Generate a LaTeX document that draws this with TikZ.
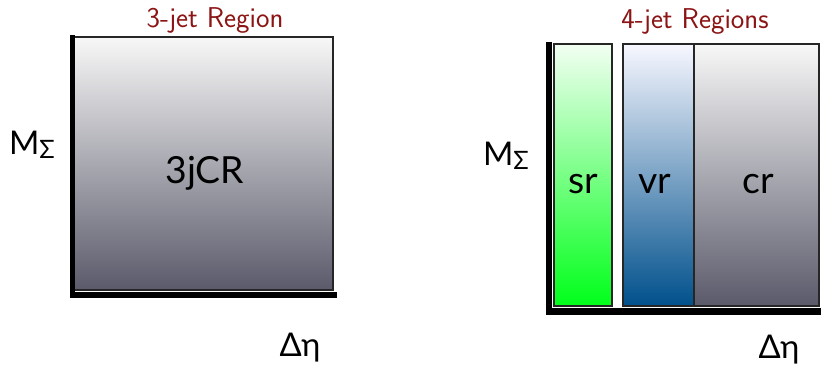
\documentclass[tikz,border=0pt]{standalone}
\usepackage{fontspec}
\usepackage{tikz}
\usetikzlibrary{positioning}
\newfontfamily\labelfont{Lato}
\definecolor{titlered}{RGB}{140,20,20}
\definecolor{cgrey}{RGB}{90,90,107}
\definecolor{cgreen}{RGB}{0,255,26}
\definecolor{cblue}{RGB}{0,80,140}
\newcommand{\msigma}{M\raisebox{-3pt}{\fontsize{19}{19}\selectfont Σ}}

\begin{document}
\begin{tikzpicture}[x=0.75pt,y=-0.75pt,
  region/.style={draw=black!85, line width=1.1pt},
  greyreg/.style={region, top color=white!97!black, bottom color=cgrey},
  greenreg/.style={region, top color=green!5!white, bottom color=cgreen},
  bluereg/.style={region, top color=blue!3!white, bottom color=cblue},
  axis/.style={line width=4.2pt, line cap=rect},
  title/.style={font=\sffamily\fontsize{21.5}{23}\selectfont, text=titlered, anchor=base},
  axislbl/.style={font=\labelfont\fontsize{24.5}{26}\selectfont, anchor=base},
  reglbl/.style={font=\labelfont\fontsize{28}{30}\selectfont, anchor=base}]
  \useasboundingbox (0,0) rectangle (821,368);

  % 3-jet panel
  \draw[greyreg] (74,37) rectangle (333,290);
  \coordinate (o3) at (72.5,295);
  \coordinate (y3) at (72.5,38);
  \coordinate (x3) at (334,295);
  \draw[axis] (y3) -- (o3) -- (x3);
  \node[title] (t3) at (215,27) {3-jet Region};
  \node[reglbl] (cr3) at (205,183) {3jCR};
  \node[axislbl] (m3) at (32,154) {\msigma};
  \node[axislbl] (e3) at (300,356) {Δη};

  % 4-jet panel
  \draw[greenreg] (554,44) rectangle (612,306);
  \draw[bluereg] (623,44) rectangle (694,306);
  \draw[greyreg] (694,44) rectangle (819,306);
  \coordinate (o4) at (549,311.5);
  \coordinate (y4) at (549,45);
  \coordinate (x4) at (821,311.5);
  \draw[axis, line width=5pt] (y4) -- (o4) -- (x4);
  \node[title] (t4) at (695,28) {4-jet Regions};
  \node[reglbl] (sr) at (583,193) {sr};
  \node[reglbl] (vr) at (655,193) {vr};
  \node[reglbl] (cr) at (758,193) {cr};
  \node[axislbl] (m4) at (506,165) {\msigma};
  \node[axislbl] (e4) at (779,358) {Δη};
\end{tikzpicture}
\end{document}
